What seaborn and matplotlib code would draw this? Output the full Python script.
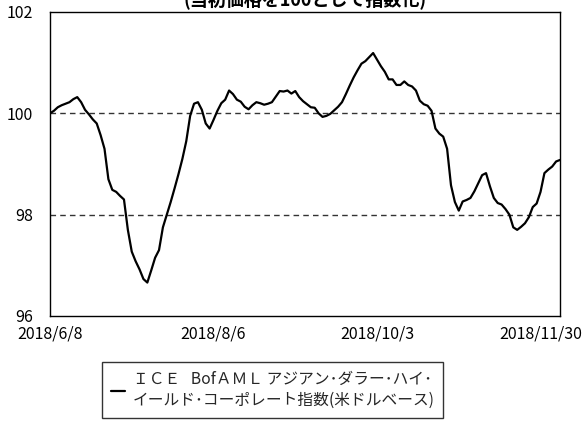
import matplotlib
matplotlib.use("Agg")
import matplotlib.pyplot as plt
import seaborn as sns
import pandas as pd
import numpy as np

# ---- data (index values, business-day series) ----
values = [
    100.00, 100.05, 100.12, 100.16, 100.19, 100.22, 100.28, 100.32, 100.22, 100.07,
    99.98, 99.88, 99.80, 99.57, 99.30, 98.70, 98.49, 98.45, 98.37, 98.30,
    97.70, 97.27, 97.08, 96.92, 96.73, 96.66, 96.90, 97.15, 97.30, 97.75,
    98.00, 98.25, 98.52, 98.80, 99.10, 99.45, 99.95, 100.19, 100.22, 100.07,
    99.80, 99.70, 99.87, 100.05, 100.20, 100.27, 100.45, 100.38, 100.27, 100.23,
    100.13, 100.08, 100.16, 100.22, 100.20, 100.17, 100.19, 100.22, 100.33, 100.44,
    100.43, 100.45, 100.39, 100.44, 100.32, 100.24, 100.18, 100.12, 100.11, 100.00,
    99.93, 99.95, 99.99, 100.06, 100.13, 100.22, 100.38, 100.55, 100.71, 100.85,
    100.98, 101.03, 101.11, 101.19, 101.06, 100.93, 100.82, 100.67, 100.67, 100.56,
    100.56, 100.63, 100.56, 100.53, 100.45, 100.25, 100.18, 100.15, 100.05, 99.70,
    99.60, 99.54, 99.30, 98.58, 98.25, 98.08, 98.26, 98.29, 98.33, 98.46,
    98.62, 98.78, 98.82, 98.56, 98.33, 98.23, 98.20, 98.11, 98.00, 97.75,
    97.70, 97.76, 97.83, 97.95, 98.15, 98.22, 98.45, 98.82, 98.89, 98.95,
    99.05, 99.08,
]
tick_labels = ["2018/6/8", "2018/8/6", "2018/10/3", "2018/11/30"]
tick_index = [0, 42, 84, 126]
y_ticks = [96, 98, 100, 102]
series_name = "ＩＣＥ   BofＡＭＬ アジアン･ダラー･ハイ･\nイールド･コーポレート指数(米ドルベース)"
title = "(当初価格を100として指数化)"

df = pd.DataFrame({"idx": np.arange(len(values)), "value": values,
                   "series": series_name})

sns.set_theme(style="white")
plt.rcParams["font.family"] = ["Noto Sans CJK JP", "DejaVu Sans"]

fig = plt.figure(figsize=(5.86, 4.22), dpi=100)
ax = fig.add_axes([50/586, 1-316/422, 510/586, 304/422])

sns.lineplot(data=df, x="idx", y="value", hue="series", palette=["black"],
             linewidth=1.6, ax=ax, legend=False)

for yv in [98, 100]:
    ax.axhline(yv, color="#333333", linewidth=1.0, linestyle=(0, (4, 3)), zorder=1)

ax.set_xlim(0, len(values) - 1)
ax.set_ylim(96, 102)
ax.set_yticks(y_ticks)
ax.set_yticklabels([str(v) for v in y_ticks])
ax.set_xticks(tick_index)
ax.set_xticklabels(tick_labels)
ax.set_xlabel("")
ax.set_ylabel("")
ax.tick_params(axis="both", direction="in", length=4, width=1.2, colors="black",
               labelsize=11.5, labelcolor="black")
ax.tick_params(axis="y", pad=12)
ax.tick_params(axis="x", pad=7)
for s in ax.spines.values():
    s.set_color("black")
    s.set_linewidth(1.0)
    s.set_visible(True)

fig.text(305/586, 1 - 0/422, title, ha="center", va="center", fontsize=13,
         fontweight="bold", color="black")

handle = plt.Line2D([], [], color="black", linewidth=1.6)
leg = fig.legend([handle], [series_name], loc="upper left",
                 bbox_to_anchor=(102/586, 1 - 362/422), borderaxespad=0,
                 fancybox=False, frameon=True, fontsize=11.3, handlelength=0.9,
                 handletextpad=0.5, borderpad=0.55, labelspacing=0.2)
leg.get_frame().set_edgecolor("black")
leg.get_frame().set_linewidth(1.0)
for t in leg.get_texts():
    t.set_linespacing(1.35)

fig.savefig("out.png", dpi=100)
